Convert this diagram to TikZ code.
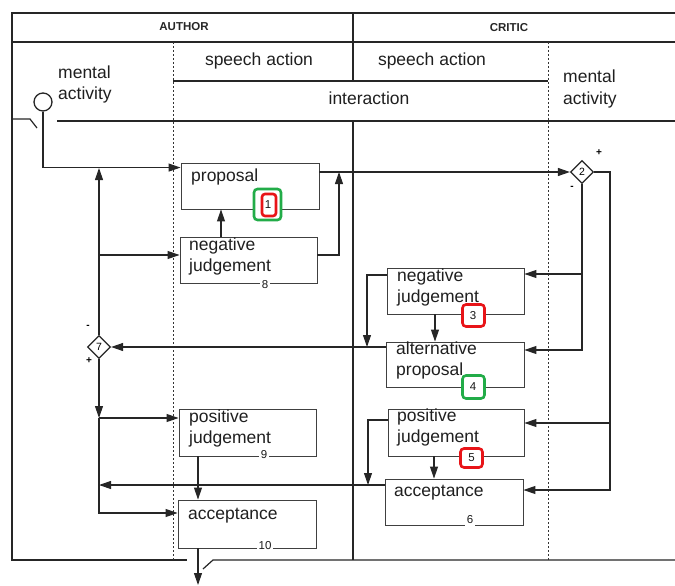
\documentclass[tikz,border=0pt]{standalone}
\usepackage{fontspec}
\setmainfont{Liberation Sans}
\usetikzlibrary{arrows.meta,shapes.geometric,calc}
\definecolor{hlred}{RGB}{232,20,24}
\definecolor{hlgreen}{RGB}{34,172,72}
\newcommand\twoln[2]{\vtop{\hbox{#1}\hbox{#2}}}
\begin{document}
\begin{tikzpicture}[x=1pt,y=-1pt,
  frame/.style={line width=1.2pt, draw=black!85},
  dotline/.style={line width=1pt, draw=black!80, dash pattern=on 2.2pt off 1.8pt},
  ln/.style={line width=1.1pt, draw=black!85},
  arr/.style={ln, -{Triangle[length=12pt,width=8pt]}},
  box/.style={draw=black!75, line width=0.9pt, minimum width=137pt, minimum height=46pt, inner sep=0pt},
  lbl/.style={font=\fontsize{17.5}{21}\selectfont, inner sep=0pt, anchor=base west, text=black!88},
  hdr/.style={font=\fontsize{17.5}{21}\selectfont, inner sep=0pt, text=black!88},
  capt/.style={font=\bfseries\fontsize{11.5}{14}\selectfont, inner sep=0pt, text=black!85},
  num/.style={font=\fontsize{11.5}{13}\selectfont, fill=white, inner sep=1.5pt, text=black!90},
  hred/.style={draw=hlred, line width=2.6pt, rounded corners=3.5pt, fill=white, inner sep=0pt},
  hgreen/.style={draw=hlgreen, line width=2.6pt, rounded corners=3.5pt, fill=white, inner sep=0pt},
  dia/.style={diamond, draw=black!85, line width=1.2pt, minimum size=23pt, inner sep=0pt, fill=white, font=\fontsize{10.5}{12}\selectfont},
  sign/.style={font=\bfseries\fontsize{10}{10}\selectfont, inner sep=0pt}]
\useasboundingbox (0,0) rectangle (675,586);

% ---------- frame ----------
\draw[frame] (675,13) -- (12,13) -- (12,560) -- (187,560);
\draw[frame] (203,569) -- (213,560) -- (675,560);
\draw[frame] (12,42) -- (675,42);
\draw[frame] (353,13) -- (353,81);
\draw[frame] (353,121) -- (353,560);
\draw[frame] (173,81) -- (548,81);
\draw[frame, line width=1.5pt] (57,121) -- (675,121);
\draw[frame] (12,119) -- (30,119) -- (37,128);
\draw[dotline] (173,42) -- (173,560);
\draw[dotline] (548,42) -- (548,560);

% ---------- header texts ----------
\node[capt] (tauthor) at (184,27) {AUTHOR};
\node[capt] (tcritic) at (509,28) {CRITIC};
\node[hdr] (tsa1) at (259,61) {speech action};
\node[hdr] (tsa2) at (432,61) {speech action};
\node[hdr] (tint) at (369,98) {interaction};
\node[lbl] (tma1) at (58,78) {\twoln{mental}{activity}};
\node[lbl] (tma2) at (563,83) {\twoln{mental}{activity}};

% ---------- boxes ----------
\node[box, minimum width=138pt] (prop) at (250,186) {};
\node[box] (nj8) at (248.5,260) {};
\node[box, minimum height=47pt] (pj9) at (247.5,432.5) {};
\node[box, minimum width=138pt, minimum height=48pt] (acc10) at (247,524) {};
\node[box] (nj3) at (455.5,291) {};
\node[box, minimum width=138pt, minimum height=45pt] (ap4) at (455,364.5) {};
\node[box, minimum width=136pt, minimum height=47pt] (pj5) at (456,432.5) {};
\node[box, minimum width=138pt] (acc6) at (454,502) {};

\node[lbl] (lprop) at (191,181) {proposal};
\node[lbl] (lnj8) at (189,250.5) {\twoln{negative}{judgement}};
\node[lbl] (lpj9) at (189,422.5) {\twoln{positive}{judgement}};
\node[lbl] (lacc10) at (188,519) {acceptance};
\node[lbl] (lnj3) at (397,281.5) {\twoln{negative}{judgement}};
\node[lbl] (lap4) at (396,354) {\twoln{alternative}{proposal}};
\node[lbl] (lpj5) at (397,421.5) {\twoln{positive}{judgement}};
\node[lbl] (lacc6) at (394,496.5) {acceptance};

% ---------- decision diamonds and start ----------
\node[dia] (d2) at (582,172) {2};
\node[dia] (d7) at (99,347) {7};
\node[sign] (d2p) at (599,153) {+};
\node[sign] (d2m) at (572,188) {-};
\node[sign] (d7m) at (88,327) {-};
\node[sign] (d7p) at (89,361) {+};
\node[draw=black!85, circle, line width=1.3pt, minimum size=18pt, inner sep=0pt] (start) at (43,102) {};

% ---------- coordinates ----------
\coordinate (j1) at (99,168);
\coordinate (j2) at (99,255);
\coordinate (j4) at (339,172);
\coordinate (r2) at (610,172);
\coordinate (j6) at (367,347);
\coordinate (j7) at (99,418);
\coordinate (j8) at (368,485);
\coordinate (j9) at (99,485);
\coordinate (out) at (198,585);
\coordinate (nj3in) at ([yshift=17pt]nj3.east);
\coordinate (ap4in) at ([yshift=14.5pt]ap4.east);
\coordinate (pj5in) at ([yshift=9.5pt]pj5.east);
\coordinate (acc6in) at ([yshift=12pt]acc6.east);

% ---------- connectors ----------
\draw[arr] (start.south) |- ([yshift=-5pt]prop.north west);
\draw[arr] (d7.north) -- (j1);
\draw[arr] (j2) -- (j2 -| nj8.west);
\draw[arr] ([xshift=-27.5pt]nj8.north) -- ([xshift=-27.5pt]nj8.north |- prop.south);
\draw[arr] ([yshift=5pt]nj8.east) -| (j4);
\draw[arr] ([yshift=14pt]prop.east) -- (d2.west);
\draw[arr] (d2.south) |- (ap4in);
\draw[arr] (d2.south |- nj3in) -- (nj3in);
\draw[arr] (d2.east) -- (r2) |- (acc6in);
\draw[arr] (r2 |- pj5in) -- (pj5in);
\draw[arr] ([yshift=16pt]nj3.west) -| (j6);
\draw[arr] ([xshift=-20.5pt]nj3.south) -- ([xshift=-20.5pt]nj3.south |- ap4.north);
\draw[arr] ([yshift=17.5pt]ap4.west) -- (d7.east);
\draw[arr] (d7.south) -- (j7);
\draw[arr] (j7) -- (j7 -| pj9.west);
\draw[arr] (j7) |- ([yshift=11pt]acc10.west);
\draw[arr] ([yshift=12.5pt]pj5.west) -| (j8);
\draw[arr] ([xshift=-22pt]pj5.south) -- ([xshift=-22pt]pj5.south |- acc6.north);
\draw[arr] ([yshift=17pt]acc6.west) -- (j9);
\draw[arr] ([xshift=-49.5pt]pj9.south) -- ([xshift=-49.5pt]pj9.south |- acc10.north);
\draw[arr] ([xshift=-49pt]acc10.south) -- (out);

% ---------- highlights and numbers ----------
\node[hgreen, minimum width=27pt, minimum height=31pt] (h1g) at (267.5,204.5) {};
\node[hred, minimum width=14pt, minimum height=22pt, rounded corners=3pt] (h1r) at (269,205) {};
\node[hred, minimum width=22pt, minimum height=22pt] (h3) at (473.5,315.5) {};
\node[hgreen, minimum width=22pt, minimum height=23pt] (h4) at (473.5,387) {};
\node[hred, minimum width=22pt, minimum height=19pt] (h5) at (471.5,458) {};

\node[num, fill=none] (n1) at (268,204.5) {1};
\node[num] (n8) at (265,285) {8};
\node[num] (n9) at (264,455) {9};
\node[num] (n10) at (265,546) {10};
\node[num, fill=none] (n3) at (473,315.5) {3};
\node[num, fill=none] (n4) at (473,387) {4};
\node[num, fill=none] (n5) at (471.5,458) {5};
\node[num] (n6) at (470,520) {6};
\end{tikzpicture}
\end{document}
